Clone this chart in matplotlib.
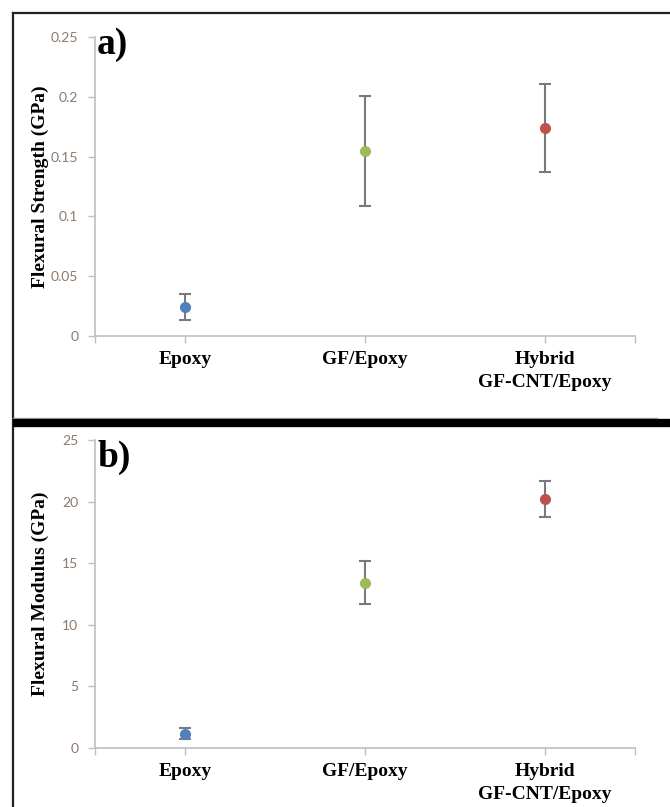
"""
Flexural strength / modulus of Epoxy, GF/Epoxy and hybrid GF-CNT/Epoxy.
Two stacked Excel-style point plots with error bars, saved as out.png.
"""
import matplotlib.pyplot as plt
from matplotlib.lines import Line2D
from matplotlib.ticker import FixedLocator

# ── Data ──────────────────────────────────────────────────────────────────────
categories = ["Epoxy", "GF/Epoxy", "Hybrid\nGF-CNT/Epoxy"]
colors = ["#4f81bd", "#9bbb59", "#c0504d"]

strength = [0.024, 0.155, 0.174]        # GPa
strength_err = [0.011, 0.046, 0.037]
strength_ticks = [0, 0.05, 0.1, 0.15, 0.2, 0.25]
strength_ticklabels = ["0", "0.05", "0.1", "0.15", "0.2", "0.25"]

modulus = [1.15, 13.4, 20.2]            # GPa
modulus_err = [0.45, 1.75, 1.45]
modulus_ticks = [0, 5, 10, 15, 20, 25]
modulus_ticklabels = ["0", "5", "10", "15", "20", "25"]

W, H = 670, 807
SERIF = "Liberation Serif"
TICK_FONT = "Lato"
TICK_COLOR = "#8a7a6c"
AXIS_GRAY = "#bfbfbf"


def px(x0, y0, x1, y1):
    """pixel box (top-left origin) -> figure fraction rect"""
    return [x0 / W, 1 - y1 / H, (x1 - x0) / W, (y1 - y0) / H]


def panel(ax, values, errs, ticks, ticklabels, top, ylabel):
    x = range(1, len(values) + 1)
    for xi, v, e, c in zip(x, values, errs, colors):
        ax.errorbar(xi, v, yerr=e, fmt="none", ecolor="#7a7a7a",
                    elinewidth=1.5, capsize=4, capthick=1.5, zorder=2)
        ax.plot(xi, v, "o", color=c, markersize=7, zorder=3)

    ax.set_xlim(0.5, len(values) + 0.5)
    ax.set_ylim(0, top)
    ax.set_yticks(ticks)
    ax.set_yticklabels(ticklabels, family=TICK_FONT, fontsize=10,
                       color=TICK_COLOR)
    ax.set_xticks(list(x))
    ax.set_xticklabels(categories, family=SERIF, fontweight="bold",
                       fontsize=14, linespacing=1.45)
    ax.xaxis.set_minor_locator(FixedLocator([0.5, len(values) + 0.5]))

    for side in ("top", "right"):
        ax.spines[side].set_visible(False)
    for side in ("left", "bottom"):
        ax.spines[side].set_color(AXIS_GRAY)
        ax.spines[side].set_linewidth(1.2)
    ax.tick_params(axis="y", length=5, width=1, color=AXIS_GRAY, pad=7)
    ax.tick_params(axis="x", which="both", length=5, width=1,
                   color=AXIS_GRAY, pad=6)
    ax.set_ylabel(ylabel, family=SERIF, fontweight="bold", fontsize=14)
    ax.yaxis.set_label_coords(-0.085, 0.5)


fig = plt.figure(figsize=(W / 100, H / 100), dpi=100)

ax_a = fig.add_axes(px(95, 37, 635, 336))
panel(ax_a, strength, strength_err, strength_ticks, strength_ticklabels,
      0.25, "Flexural Strength (GPa)")

ax_b = fig.add_axes(px(95, 440, 635, 748))
panel(ax_b, modulus, modulus_err, modulus_ticks, modulus_ticklabels,
      25, "Flexural Modulus (GPa)")

# panel letters
fig.text(97 / W, 1 - 27 / H, "a)", family=SERIF, fontweight="bold",
         fontsize=27, va="top", ha="left")
fig.text(97 / W, 1 - 440 / H, "b)", family=SERIF, fontweight="bold",
         fontsize=27, va="top", ha="left")

# frame lines: top + left border, thin gray rule and thick black separator
fig.add_artist(Line2D([13 / W, 1], [1 - 13 / H] * 2, color="#222222",
                      linewidth=1.6, transform=fig.transFigure))
fig.add_artist(Line2D([13 / W] * 2, [1 - 13 / H, 0], color="#222222",
                      linewidth=1.6, transform=fig.transFigure))
fig.add_artist(Line2D([13 / W, 657 / W], [1 - 418 / H] * 2, color="#aaaaaa",
                      linewidth=1.0, transform=fig.transFigure))
fig.add_artist(Line2D([13 / W, 1], [1 - 423 / H] * 2, color="black",
                      linewidth=6, transform=fig.transFigure,
                      solid_capstyle="butt"))

fig.savefig("out.png", dpi=100)
